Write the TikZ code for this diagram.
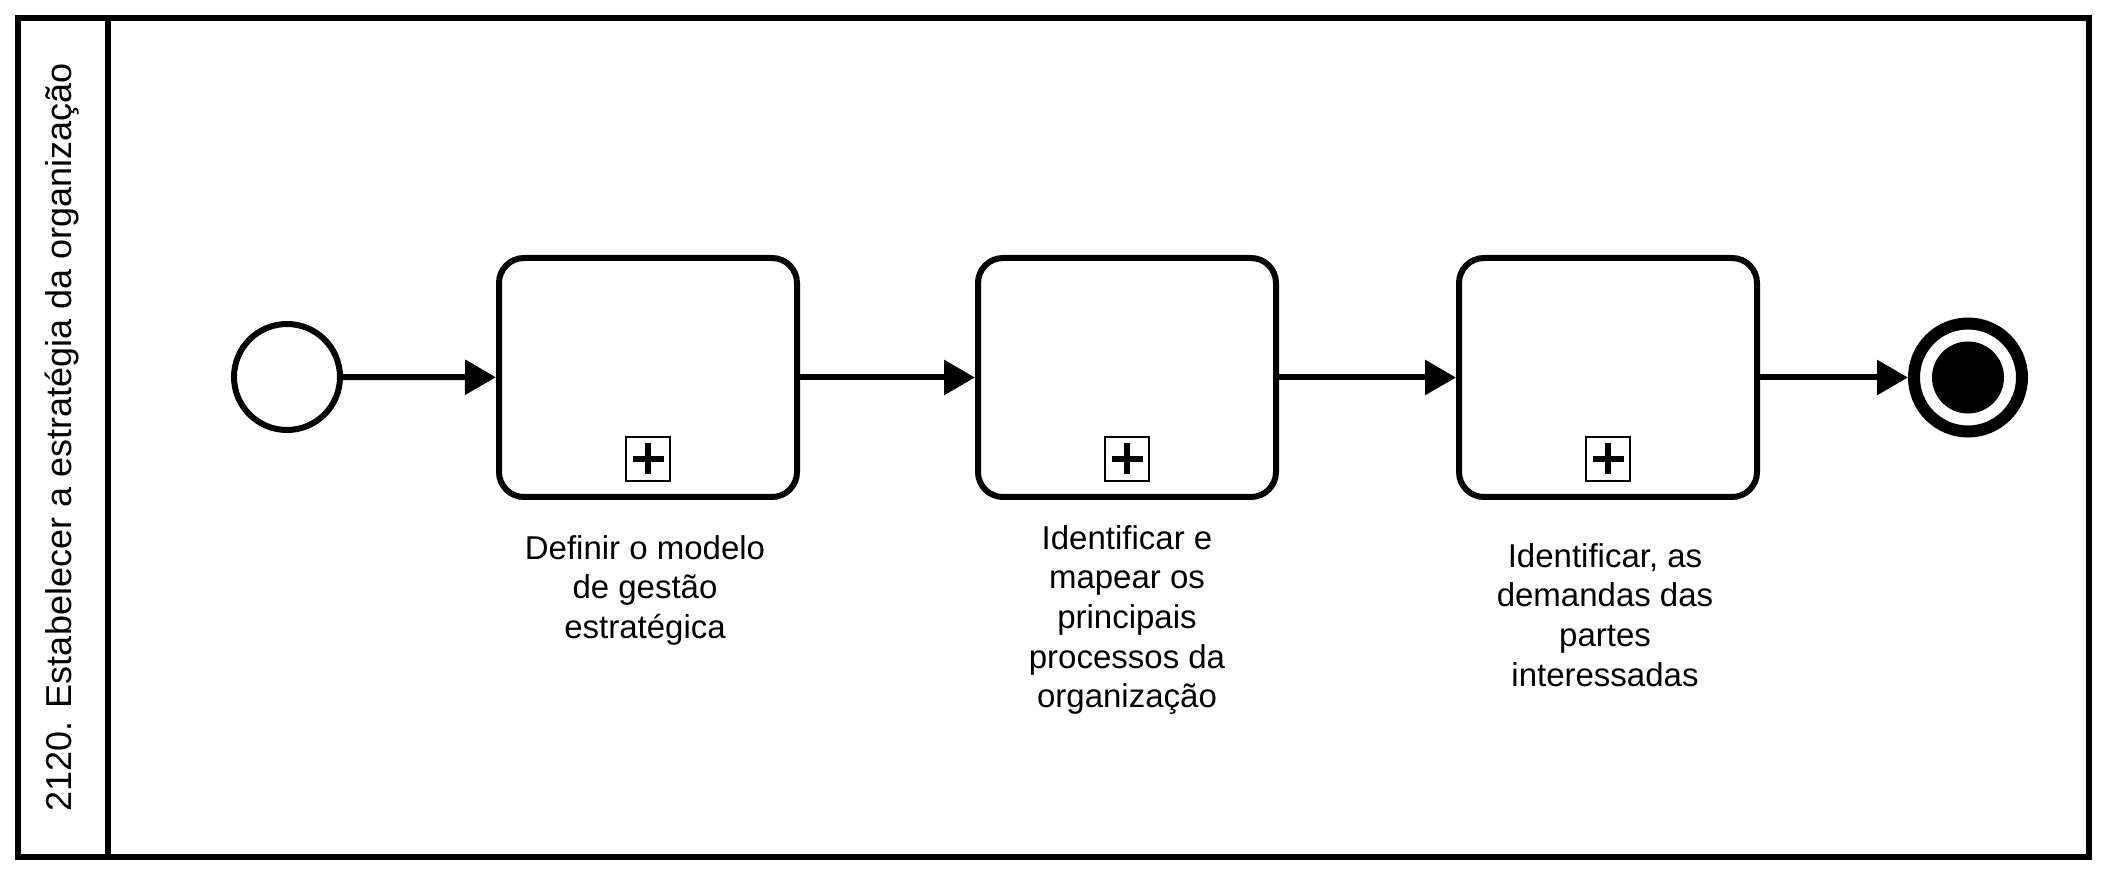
\documentclass[tikz,border=0pt]{standalone}
\usepackage{fontspec}
\setmainfont{Liberation Sans}
\usetikzlibrary{arrows.meta}
\begin{document}
\begin{tikzpicture}[x=0.5pt,y=-0.5pt,
  lane/.style={draw=black,line width=3pt},
  task/.style={draw=black,line width=3pt,rounded corners=12.5pt,minimum width=149pt,minimum height=119.5pt,inner sep=0pt},
  startev/.style={circle,draw=black,line width=3pt,minimum size=53pt,inner sep=0pt},
  endev/.style={circle,draw=black,line width=6pt,minimum size=54pt,inner sep=0pt},
  endfill/.style={circle,fill=black,minimum size=36pt,inner sep=0pt},
  marker/.style={draw=black,line width=1.1pt,minimum size=21.8pt,inner sep=0pt},
  plusline/.style={line width=3pt},
  flow/.style={line width=3pt,-{Triangle[length=15.5pt,width=17pt]}},
  lbl/.style={align=center,font=\fontsize{16.5pt}{19.8pt}\selectfont,inner sep=0pt,anchor=north},
  lanelbl/.style={rotate=90,font=\fontsize{18pt}{21.6pt}\selectfont,inner sep=0pt}
]
\useasboundingbox (0,0) rectangle (2106,876);
\draw[lane] (18,18) rectangle (2089,857);
\draw[lane] (107.5,18) -- (107.5,857);
\node[lanelbl] (lanetitle) at (62,437.5) {2120. Estabelecer a estratégia da organização};

\node[startev] (start) at (287,377) {};
\node[task] (t1) at (648,377.5) {};
\node[task] (t2) at (1127,377.5) {};
\node[task] (t3) at (1608,377.5) {};
\node[endev] (end) at (1968,377.5) {};
\node[endfill] (endin) at (1968,377.5) {};

\foreach \t in {t1,t2,t3}{
  \node[marker] (\t m) at ([yshift=-40.75pt]\t.center) {};
  \draw[plusline] ([xshift=-7.75pt]\t m.center) -- ([xshift=7.75pt]\t m.center);
  \draw[plusline] ([yshift=-7.75pt]\t m.center) -- ([yshift=7.75pt]\t m.center);
}

\draw[flow] (start) -- (t1);
\draw[flow] (t1) -- (t2);
\draw[flow] (t2) -- (t3);
\draw[flow] (t3) -- (end);

\node[lbl] (l1) at (645,535) {Definir o modelo\\de gestão\\estratégica};
\node[lbl] (l2) at (1127,525) {Identificar e\\mapear os\\principais\\processos da\\organização};
\node[lbl] (l3) at (1605,543) {Identificar, as\\demandas das\\partes\\interessadas};
\end{tikzpicture}
\end{document}
